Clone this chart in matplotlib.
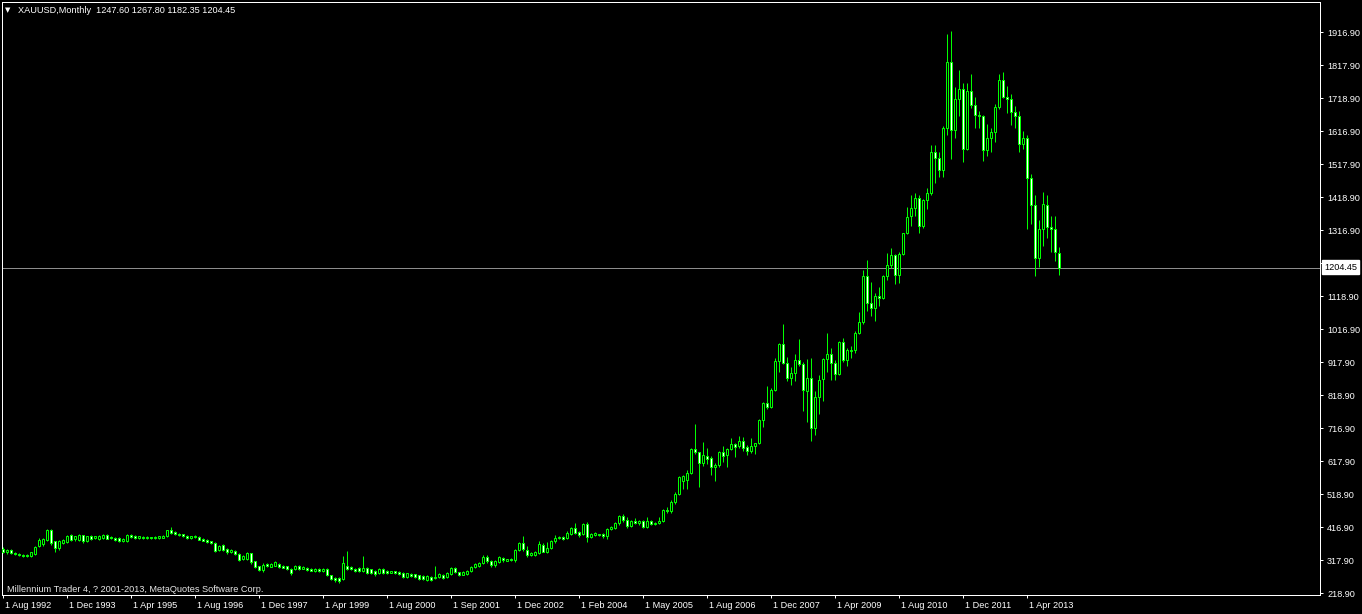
import matplotlib
matplotlib.use("Agg")
from matplotlib import pyplot as plt
import numpy as np

# monthly XAUUSD candles (bar index 0 = Aug 1992)
opens = [354, 343, 350, 341, 338, 336, 335, 333, 338, 361,
         368, 381, 411, 376, 355, 371, 374, 396, 383, 381,
         394, 376, 391, 386, 383, 386, 396, 389, 386, 386,
         376, 378, 396, 393, 386, 389, 385, 388, 385, 385,
         387, 391, 409, 403, 399, 397, 393, 385, 389, 389,
         383, 381, 376, 371, 351, 366, 353, 343, 346, 339,
         323, 323, 340, 316, 301, 289, 309, 299, 303, 309,
         303, 301, 293, 291, 303, 293, 296, 293, 287, 293,
         285, 293, 273, 266, 264, 261, 303, 299, 293, 294,
         286, 296, 291, 286, 279, 293, 286, 281, 285, 284,
         281, 267, 278, 276, 273, 271, 259, 268, 264, 268,
         274, 267, 277, 296, 282, 275, 278, 285, 297, 303,
         311, 330, 318, 304, 314, 326, 318, 323, 319, 350,
         372, 350, 335, 336, 341, 365, 345, 356, 376, 385,
         390, 385, 398, 418, 405, 397, 429, 389, 394, 397,
         397, 391, 413, 418, 431, 453, 441, 424, 437, 431,
         438, 420, 437, 428, 431, 437, 471, 467, 494, 518,
         560, 563, 583, 655, 646, 613, 635, 627, 600, 606,
         648, 637, 655, 670, 664, 679, 661, 649, 665, 673,
         744, 796, 784, 833, 923, 972, 916, 870, 886, 926,
         913, 832, 872, 718, 814, 867, 927, 942, 916, 884,
         979, 926, 951, 955, 1008, 1040, 1180, 1097, 1082, 1118,
         1113, 1180, 1213, 1242, 1181, 1247, 1308, 1362, 1386, 1414,
         1332, 1410, 1431, 1556, 1536, 1500, 1627, 1826, 1622, 1714,
         1746, 1564, 1738, 1696, 1668, 1663, 1560, 1598, 1614, 1690,
         1772, 1720, 1714, 1675, 1663, 1578, 1596, 1476, 1393, 1234,
         1323, 1395, 1327, 1323, 1247.60]

highs = [358, 354, 353, 345, 341, 338, 337, 345, 362, 385,
         386, 414, 413, 378, 380, 383, 396, 398, 393, 397,
         396, 393, 394, 393, 394, 399, 398, 391, 388, 388,
         385, 397, 399, 395, 393, 391, 391, 390, 391, 393,
         396, 411, 419, 406, 401, 399, 395, 393, 395, 391,
         385, 383, 378, 373, 366, 368, 356, 354, 349, 341,
         336, 343, 342, 318, 303, 310, 311, 312, 317, 312,
         305, 303, 295, 306, 305, 302, 299, 295, 295, 295,
         294, 295, 275, 268, 267, 331, 346, 301, 295, 297,
         331, 298, 293, 288, 296, 295, 288, 287, 287, 286,
         283, 281, 280, 278, 275, 273, 273, 271, 302, 280,
         277, 282, 299, 300, 284, 285, 289, 303, 310, 315,
         334, 334, 321, 321, 331, 329, 324, 325, 352, 375,
         392, 363, 343, 346, 378, 370, 373, 379, 396, 391,
         392, 406, 421, 431, 408, 431, 434, 401, 403, 399,
         400, 417, 424, 434, 456, 458, 449, 441, 446, 441,
         441, 449, 440, 434, 450, 474, 480, 500, 526, 575,
         578, 593, 659, 731, 648, 677, 658, 634, 613, 650,
         665, 660, 690, 675, 695, 692, 668, 689, 675, 745,
         799, 845, 841, 932, 975, 1034, 934, 905, 943, 988,
         918, 928, 930, 832, 880, 931, 1006, 962, 925, 983,
         991, 960, 966, 1012, 1071, 1197, 1228, 1161, 1128, 1147,
         1183, 1249, 1265, 1245, 1253, 1310, 1388, 1424, 1431, 1424,
         1413, 1447, 1576, 1577, 1554, 1632, 1912, 1920, 1752, 1803,
         1764, 1763, 1791, 1720, 1680, 1668, 1640, 1627, 1700, 1790,
         1796, 1754, 1731, 1695, 1678, 1617, 1606, 1488, 1424, 1348,
         1434, 1424, 1361, 1362, 1267.80]

lows = [340, 339, 338, 335, 333, 330, 330, 330, 335, 358,
        362, 378, 366, 343, 350, 368, 370, 378, 378, 378,
        372, 373, 381, 383, 380, 384, 382, 382, 378, 374,
        373, 375, 387, 384, 384, 383, 383, 383, 383, 383,
        385, 389, 399, 395, 391, 390, 382, 382, 386, 379,
        376, 370, 368, 343, 346, 346, 337, 340, 336, 318,
        320, 320, 309, 295, 285, 283, 298, 297, 301, 296,
        294, 288, 275, 288, 290, 291, 286, 285, 284, 282,
        282, 272, 258, 254, 251, 258, 290, 288, 282, 282,
        283, 278, 276, 272, 276, 276, 278, 279, 276, 273,
        266, 264, 268, 265, 260, 258, 256, 256, 261, 265,
        262, 265, 274, 279, 272, 273, 275, 282, 294, 300,
        307, 312, 300, 300, 310, 314, 316, 316, 315, 347,
        348, 330, 332, 331, 337, 343, 341, 352, 372, 382,
        381, 383, 394, 398, 390, 394, 375, 385, 391, 391,
        387, 383, 410, 414, 427, 435, 418, 419, 428, 426,
        416, 417, 425, 426, 428, 434, 461, 461, 489, 516,
        534, 534, 580, 640, 542, 605, 610, 576, 560, 602,
        617, 602, 652, 632, 659, 651, 638, 643, 642, 670,
        721, 776, 780, 831, 890, 914, 860, 850, 862, 908,
        772, 736, 681, 698, 762, 802, 890, 865, 866, 880,
        920, 908, 930, 945, 1004, 1033, 1074, 1058, 1044, 1088,
        1110, 1167, 1205, 1156, 1157, 1244, 1306, 1330, 1360, 1309,
        1324, 1381, 1423, 1462, 1478, 1478, 1605, 1532, 1596, 1664,
        1523, 1562, 1688, 1627, 1627, 1527, 1542, 1555, 1585, 1686,
        1718, 1672, 1636, 1626, 1555, 1563, 1322, 1338, 1180, 1207,
        1271, 1294, 1251, 1226, 1182.35]

closes = [343, 350, 341, 338, 336, 333, 332, 343, 359, 381,
          383, 411, 371, 356, 376, 379, 393, 381, 391, 395,
          376, 391, 384, 391, 391, 396, 384, 385, 381, 378,
          383, 395, 389, 387, 391, 385, 389, 385, 389, 391,
          393, 409, 401, 397, 394, 393, 385, 391, 393, 381,
          378, 373, 371, 346, 363, 349, 343, 351, 339, 321,
          333, 340, 313, 299, 289, 306, 301, 309, 313, 299,
          296, 291, 279, 303, 293, 299, 289, 287, 293, 285,
          292, 275, 261, 259, 256, 311, 293, 291, 285, 286,
          296, 281, 279, 276, 293, 279, 281, 285, 279, 276,
          269, 279, 271, 268, 263, 261, 271, 259, 269, 277,
          265, 279, 296, 282, 275, 282, 287, 300, 307, 312,
          330, 316, 304, 318, 328, 319, 322, 319, 350, 372,
          352, 335, 340, 343, 368, 345, 357, 377, 387, 388,
          384, 402, 418, 402, 396, 428, 388, 398, 400, 394,
          391, 414, 421, 431, 453, 440, 423, 438, 432, 438,
          420, 438, 428, 432, 438, 471, 467, 494, 518, 572,
          574, 582, 656, 646, 614, 637, 626, 600, 607, 648,
          635, 655, 670, 663, 679, 660, 649, 665, 673, 743,
          796, 783, 834, 923, 972, 916, 870, 886, 926, 912,
          833, 871, 718, 814, 865, 927, 942, 916, 884, 979,
          926, 954, 956, 1008, 1040, 1180, 1097, 1081, 1118, 1113,
          1180, 1213, 1242, 1181, 1247, 1308, 1357, 1384, 1414, 1332,
          1410, 1431, 1556, 1536, 1500, 1627, 1826, 1622, 1714, 1746,
          1564, 1738, 1696, 1668, 1663, 1560, 1598, 1614, 1690, 1772,
          1720, 1714, 1676, 1663, 1578, 1596, 1476, 1393, 1234, 1323,
          1396, 1327, 1323, 1251, 1204.45]

price_labels = ["218.90", "317.90", "416.90", "518.90", "617.90", "716.90",
                "818.90", "917.90", "1016.90", "1118.90", "1217.90", "1316.90",
                "1418.90", "1517.90", "1616.90", "1718.90", "1817.90", "1916.90"]
date_labels = ["1 Aug 1992", "1 Dec 1993", "1 Apr 1995", "1 Aug 1996",
               "1 Dec 1997", "1 Apr 1999", "1 Aug 2000", "1 Sep 2001",
               "1 Dec 2002", "1 Feb 2004", "1 May 2005", "1 Aug 2006",
               "1 Dec 2007", "1 Apr 2009", "1 Aug 2010", "1 Dec 2011",
               "1 Apr 2013"]
last_price = 1204.45

W, H = 1362, 614
fig = plt.figure(figsize=(W / 100, H / 100), dpi=100, facecolor="black")
# plot frame in pixels: x 2..1319.5, y 2..595.3
ax = fig.add_axes([2 / W, (H - 595.3) / H, 1317.5 / W, 593.3 / H])
ax.set_facecolor("black")

font = "Liberation Sans"
fs = 6.6
green = "#00ff00"
px = 0.72  # one pixel in points

o = np.array(opens, dtype=float)
c = np.array(closes, dtype=float)
x = np.arange(len(o))
bear = c < o

ax.vlines(x, lows, highs, colors=green, linewidth=px, zorder=2)
ax.bar(x, np.abs(c - o), bottom=np.minimum(o, c), width=0.5,
       color=np.where(bear, "white", "black"), edgecolor=green,
       linewidth=px, zorder=3)

ax.axhline(last_price, color="#8c8c8c", linewidth=px, zorder=1)

ax.set_xlim(-0.325, 329.05)
ax.set_ylim(212.85, 2008.6)

for s in ax.spines.values():
    s.set_color("white")
    s.set_linewidth(px)

ax.yaxis.tick_right()
ax.set_yticks(np.linspace(218.9, 1916.9, len(price_labels)))
ax.set_yticklabels(price_labels)
ax.set_xticks(np.arange(len(date_labels)) * 16)
ax.set_xticklabels([])
ax.tick_params(axis="y", colors="white", length=2.5, width=px, pad=3,
               labelsize=fs)
ax.tick_params(axis="x", colors="white", length=2.5, width=px)
for t in ax.get_yticklabels():
    t.set_family(font)

# date labels sit to the right of their tick
for i, lab in enumerate(date_labels):
    xp = 3.3 + 4 * 16 * i + 1.5
    fig.text(xp / W, 1 - 606 / H, lab, color="white", fontsize=fs,
             family=font, ha="left", va="center")

# current price box
fig.text(1324 / W, 1 - 267 / H, "1204.45", color="black", fontsize=fs,
         family=font, ha="left", va="center",
         bbox=dict(boxstyle="square,pad=0.25", facecolor="white",
                   edgecolor="white"))

fig.text(5 / W, 1 - 10.5 / H, "\u25bc", color="white", fontsize=5,
         family="DejaVu Sans", ha="left", va="center")
fig.text(18 / W, 1 - 10.5 / H, "XAUUSD,Monthly  1247.60 1267.80 1182.35 1204.45",
         color="white", fontsize=fs, family=font, ha="left", va="center")
fig.text(7 / W, 1 - 589 / H,
         "Millennium Trader 4, ? 2001-2013, MetaQuotes Software Corp.",
         color="#e8e8e8", fontsize=fs, family=font, ha="left", va="center")

fig.savefig("out.png", dpi=100, facecolor="black")
